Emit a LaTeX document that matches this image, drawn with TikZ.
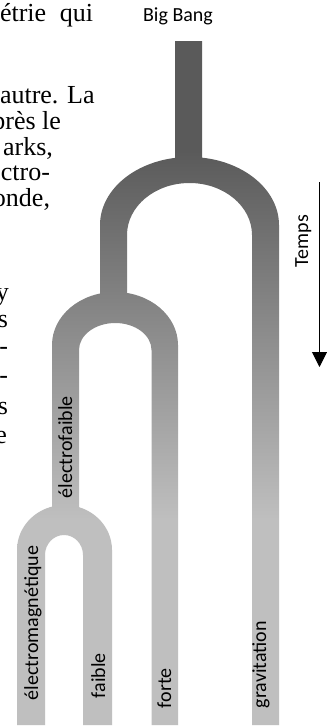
\documentclass[tikz,border=0pt]{standalone}
\usepackage{fontspec}
\newfontfamily\labelfont{Carlito}
\newfontfamily\pagefont{Liberation Serif}
\usetikzlibrary{arrows.meta}

% one drawing unit = 0.75pt
\newdimen\pxu \pxu=0.75pt

\definecolor{treedark}{HTML}{5A5A5A}
\definecolor{treelight}{HTML}{BFBFBF}
% vertical fade of the forces tree: dark trunk, light branches
\pgfdeclareverticalshading{treefade}{100bp}{%
  color(0bp)=(treelight); color(40bp)=(treelight);
  color(67bp)=(treedark); color(100bp)=(treedark)}

\tikzset{
  body/.style={font=\pagefont\fontsize{19.5}{23}\selectfont, inner sep=0pt, outer sep=0pt},
  lbl/.style={font=\labelfont\fontsize{15}{18}\selectfont, inner sep=0pt, outer sep=0pt},
  legtext/.style={lbl, rotate=90, anchor=base west},
}

\begin{document}
\begin{tikzpicture}[x=0.75pt, y=-0.75pt]
  \useasboundingbox (0,0) rectangle (327,726);
  \fill[white] (0,0) rectangle (327,726);

  % running text of the page, cut by the margin
  \node[body, anchor=base west] (t1) at (0,21) {\makebox[93\pxu][s]{étrie qui}};
  \node[body, anchor=base west] (t2) at (0,103) {autre. La};
  \node[body, anchor=base east] (t3) at (61,129) {près le};
  \node[body, anchor=base east] (t4) at (53,155) {arks,};
  \node[body, anchor=base east] (t5) at (50,180) {ctro-};
  \node[body, anchor=base east] (t6) at (50,206) {onde,};
  \node[body, anchor=base east] (t7) at (9,300) {y};
  \node[body, anchor=base east] (t8) at (8,327) {s};
  \node[body, anchor=base east] (t9) at (8,354) {-};
  \node[body, anchor=base east] (t10) at (8,383) {-};
  \node[body, anchor=base east] (t11) at (8,414) {s};
  \node[body, anchor=base east] (t12) at (7,443) {e};

  % the tree: trunk and three forks, one shaded region
  \shade[shading=treefade]
    (175,170) -- (175,41) -- (202,41) -- (202,170) -- cycle
    (100,300) -- (100,225)
      arc[start angle=180, end angle=360, x radius=89.5, y radius=68]
      -- (279,725) -- (252,725) -- (252,235)
      arc[start angle=360, end angle=180, x radius=62.5, y radius=52]
      -- (127,300) -- cycle
    (52,510) -- (52,345)
      arc[start angle=180, end angle=360, x radius=63, y radius=53]
      -- (178,725) -- (151.5,725) -- (151.5,350)
      arc[start angle=360, end angle=180, x radius=36.25, y radius=27]
      -- (79,510) -- cycle
    (17,725) -- (17,550)
      arc[start angle=180, end angle=360, x radius=47.5, y radius=45]
      -- (112,725) -- (83,725) -- (83,555)
      arc[start angle=360, end angle=180, x radius=19, y radius=20]
      -- (45,725) -- cycle;

  % labels
  \node[lbl, anchor=base] (bigbang) at (178,21) {Big Bang};
  \node[legtext] (em) at (38,700) {électromagnétique};
  \node[legtext] (ew) at (72,498) {électrofaible};
  \node[legtext] (weak) at (105,698) {faible};
  \node[legtext] (strong) at (171,708) {forte};
  \node[legtext] (grav) at (266,708) {gravitation};

  % time axis
  \coordinate (tstart) at (319.5,182);
  \coordinate (tend) at (319.5,367);
  \draw[line width=0.75pt, -{Triangle[width=11.25pt, length=11.25pt]}] (tstart) -- (tend);
  \node[lbl, rotate=90, anchor=base west] (temps) at (308,267) {Temps};
\end{tikzpicture}
\end{document}
